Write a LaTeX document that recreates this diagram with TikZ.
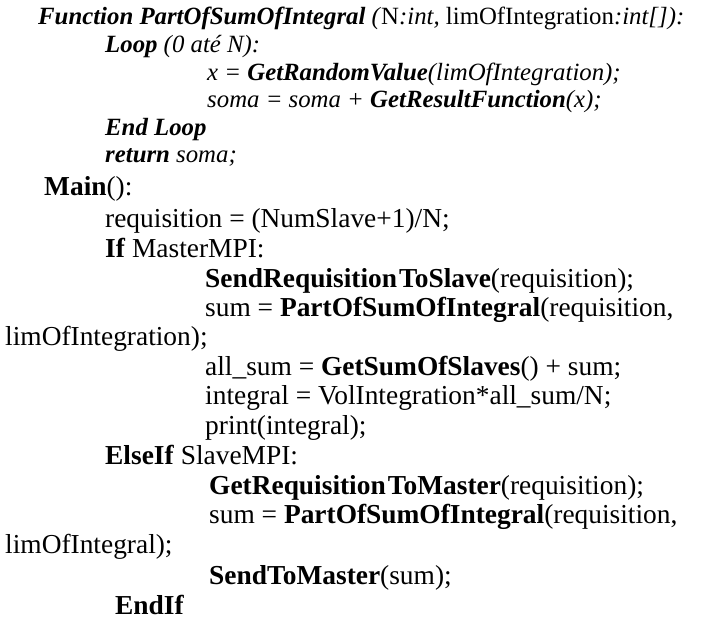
\documentclass[tikz,border=0pt]{standalone}
\usepackage{fontspec}
\setmainfont{Liberation Serif}
\begin{document}
\begin{tikzpicture}[x=1pt,y=-1pt,
  codeA/.style={inner sep=0pt,anchor=base west,font=\fontsize{24.8}{28}\selectfont\itshape},
  codeB/.style={inner sep=0pt,anchor=base west,font=\fontsize{27.4}{30}\selectfont}]
\useasboundingbox[fill=white] (0,0) rectangle (704,639);
\node[codeA] (l1) at (38,25) {\textbf{Function PartOfSumOfIntegral} (\textup{N}:int, \textup{limOfIntegration}:int[]):};
\node[codeA] (l2) at (105,53) {\textbf{Loop} (0 até N):};
\node[codeA] (l3) at (207,81) {x = \textbf{GetRandomValue}(limOfIntegration);};
\node[codeA] (l4) at (207,108) {soma = soma + \textbf{GetResultFunction}(x);};
\node[codeA] (l5) at (105,136) {\textbf{End Loop}};
\node[codeA] (l6) at (105,163) {\textbf{return} soma;};
\node[codeB] (m1) at (44,196) {\textbf{Main}():};
\node[codeB] (m2) at (105,228) {requisition = (NumSlave+1)/N;};
\node[codeB] (m3) at (105,257) {\textbf{If} MasterMPI:};
\node[codeB] (m4) at (205,287) {\textbf{SendRequisition\hspace{2pt}ToSlave}(requisition);};
\node[codeB] (m5) at (205,316) {sum = \textbf{PartOfSumOfIntegral}(requisition,};
\node[codeB] (m6) at (5,345) {limOfIntegration);};
\node[codeB] (m7) at (205,375) {all\_sum = \textbf{GetSumOfSlaves}() + sum;};
\node[codeB] (m8) at (205,404) {integral = VolIntegration*all\_sum/N;};
\node[codeB] (m9) at (205,434) {print(integral);};
\node[codeB] (m10) at (105,464) {\textbf{ElseIf} SlaveMPI:};
\node[codeB] (m11) at (209,494) {\textbf{GetRequisition\hspace{2pt}ToMaster}(requisition);};
\node[codeB] (m12) at (209,523) {sum = \textbf{PartOfSumOfIntegral}(requisition,};
\node[codeB] (m13) at (5,553) {limOfIntegral);};
\node[codeB] (m14) at (209,584) {\textbf{SendToMaster}(sum);};
\node[codeB] (m15) at (115,614) {\textbf{EndIf}};
\end{tikzpicture}
\end{document}
